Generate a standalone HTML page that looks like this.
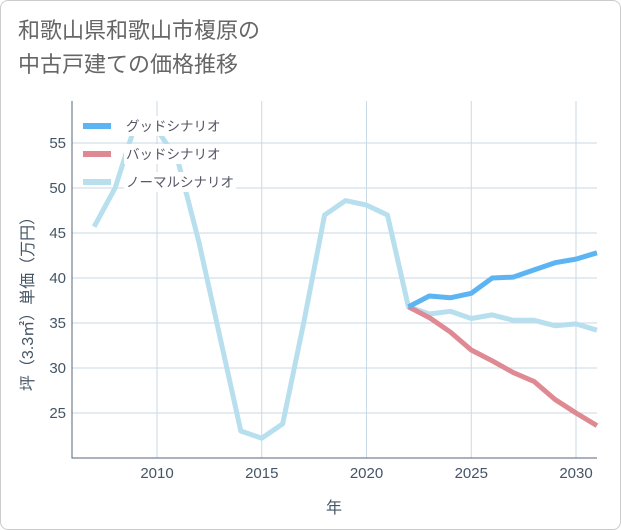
<!DOCTYPE html>
<html><head><meta charset="utf-8"><style>
body{margin:0;background:#fff;}
.card{position:absolute;left:0;top:0;width:619px;height:528px;border:1px solid #ccc;border-radius:8px;background:#fff;}
.t{font-family:"Liberation Sans","Noto Sans CJK JP",sans-serif;}
</style></head><body>
<div class="card"></div>
<div class="t" style="position:absolute;left:18px;top:14px;font-size:22px;line-height:34px;color:#666;">和歌山県和歌山市榎原の<br>中古戸建ての価格推移</div>
<svg id="c" width="621" height="530" style="position:absolute;left:0;top:0"></svg>
<script>
const years=[2007,2008,2009,2010,2011,2012,2013,2014,2015,2016,2017,2018,2019,2020,2021,2022,2023,2024,2025,2026,2027,2028,2029,2030,2031];
const normal=[45.7,50,57.3,56.5,53,44,33.5,23,22.2,23.8,35,47,48.6,48.1,47,36.8,36,36.3,35.5,35.9,35.3,35.3,34.7,34.9,34.2];
const goodYears=[2022,2023,2024,2025,2026,2027,2028,2029,2030,2031];
const good=[36.8,38,37.8,38.3,40,40.1,40.9,41.7,42.1,42.8];
const bad=[36.8,35.6,34,32,30.8,29.5,28.5,26.5,25,23.6];
const xTicks=[2010,2015,2020,2025,2030];
const yTicks=[25,30,35,40,45,50,55];
const L=72,R=597,T=101,B=458;
const x=v=>157+(v-2010)*20.95;
const y=v=>143+(55-v)*9;
const s=document.getElementById('c');const NS='http://www.w3.org/2000/svg';
function mk(t,a,p){const e=document.createElementNS(NS,t);for(const k in a)e.setAttribute(k,a[k]);(p||s).appendChild(e);return e;}
xTicks.forEach(v=>{const l=mk('line',{x1:x(v),x2:x(v),y1:T,y2:B,stroke:'#c9d9e6','stroke-width':1});


const t=mk('text',{x:x(v),y:B+20,'text-anchor':'middle','font-size':15,fill:'#456','font-family':'Liberation Sans,sans-serif'});t.textContent=v;

});
yTicks.forEach(v=>{const l=mk('line',{x1:L,x2:R,y1:y(v),y2:y(v),stroke:'#c9d9e6','stroke-width':1});


const t=mk('text',{x:L-6,y:y(v)+5,'text-anchor':'end','font-size':15,fill:'#456','font-family':'Liberation Sans,sans-serif'});t.textContent=v;

});
const ax=mk('path',{d:`M${L} ${T}V${B}H${R}`,fill:'none',stroke:'#567','stroke-width':1});


function line(xs,vs,c,n){const p=mk('polyline',{points:xs.map((v,i)=>x(v)+','+y(vs[i])).join(' '),fill:'none',stroke:c,'stroke-width':5,'stroke-linejoin':'round'});

}
line(years,normal,'#b7dfee','line-normal');
line(goodYears,bad,'#df8a92','line-bad');
line(goodYears,good,'#5cb5f2','line-good');
const xt=mk('text',{x:334,y:513,'text-anchor':'middle','font-size':16,fill:'#456','font-family':'Liberation Sans,Noto Sans CJK JP,sans-serif'});xt.textContent='年';


const yt=mk('text',{x:0,y:0,'text-anchor':'middle','font-size':16,fill:'#456','font-family':'Liberation Sans,Noto Sans CJK JP,sans-serif',transform:'translate(33,300) rotate(-90)'});yt.textContent='坪（3.3㎡）単価（万円）';


const leg=[['グッドシナリオ','#5cb5f2'],['バッドシナリオ','#df8a92'],['ノーマルシナリオ','#b7dfee']];
leg.forEach((d,i)=>{const yy=126+i*28;
const g=mk('g',{});


mk('line',{x1:83,x2:111,y1:yy,y2:yy,stroke:d[1],'stroke-width':6},g);
mk('rect',{x:124,y:yy-10,width:d[0].length*13.5+4,height:20,fill:'#fff'},g);
const t=mk('text',{x:126,y:yy+5,'font-size':13.5,fill:'#556','font-family':'Liberation Sans,Noto Sans CJK JP,sans-serif'},g);t.textContent=d[0];});
</script>
</body></html>
